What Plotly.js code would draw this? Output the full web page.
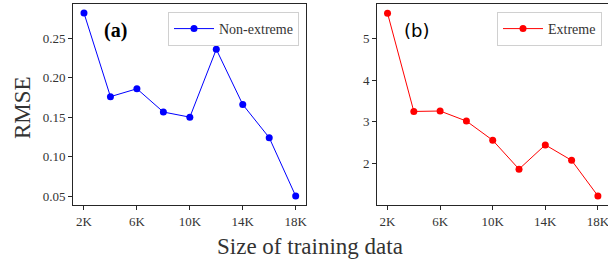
<!DOCTYPE html>
<html><head><meta charset="utf-8">
<script src="https://cdn.plot.ly/plotly-3.0.1.min.js"></script>
<style>html,body{margin:0;padding:0;background:#fff}#c{width:608px;height:266px}</style>
</head><body><div id="c"></div>
<script>
const sizes = [2, 4, 6, 8, 10, 12, 14, 16, 18];
const tickVals = [2, 6, 10, 14, 18];
const tickLabels = ["2K", "6K", "10K", "14K", "18K"];
const nonExtreme = [0.282, 0.176, 0.186, 0.1565, 0.150, 0.236, 0.166, 0.124, 0.050];
const extreme = [5.60, 3.25, 3.26, 3.02, 2.56, 1.87, 2.45, 2.08, 1.23];

const serif = "Liberation Serif";
const W = 608, H = 266;
const frame = '#262626';

const traces = [
  {x: sizes, y: nonExtreme, type: 'scatter', mode: 'lines+markers', name: 'Non-extreme',
   line: {color: '#0000ff', width: 1}, marker: {color: '#0000ff', size: 7}, xaxis: 'x', yaxis: 'y', legend: 'legend'},
  {x: sizes, y: extreme, type: 'scatter', mode: 'lines+markers', name: 'Extreme',
   line: {color: '#ff0000', width: 1}, marker: {color: '#ff0000', size: 7}, xaxis: 'x2', yaxis: 'y2', legend: 'legend2'}
];

const axBase = {showgrid: false, zeroline: false, showline: true, mirror: true, linecolor: frame, linewidth: 1,
  ticks: 'outside', ticklen: 4, tickwidth: 1, tickcolor: frame, ticklabeloverflow: 'allow',
  tickfont: {family: serif, size: 13, color: '#333'}};

const yDom = [1 - 205 / H, 1 - 4 / H];
const layout = {
  width: W, height: H, margin: {l: 0, r: 0, t: 0, b: 0}, paper_bgcolor: '#fff', plot_bgcolor: '#fff',
  showlegend: true,
  font: {family: serif},
  xaxis: Object.assign({}, axBase, {domain: [73 / W, 306 / W], range: [1.17, 18.78], tickvals: tickVals, ticktext: tickLabels, anchor: 'y'}),
  yaxis: Object.assign({}, axBase, {domain: yDom, range: [0.0386, 0.2935], tickvals: [0.05, 0.10, 0.15, 0.20, 0.25], ticktext: ['0.05','0.10','0.15','0.20','0.25'], anchor: 'x'}),
  xaxis2: Object.assign({}, axBase, {domain: [377 / W, 607.5 / W], range: [1.2, 18.73], tickvals: tickVals, ticktext: tickLabels, anchor: 'y2'}),
  yaxis2: Object.assign({}, axBase, {domain: yDom, range: [1.012, 5.82], tickvals: [2, 3, 4, 5], anchor: 'x2'}),
  legend: {x: 299 / W, y: 1 - 12 / H, xanchor: 'right', yanchor: 'top', bgcolor: 'rgba(255,255,255,0.8)', bordercolor: '#d0d0d0', borderwidth: 1,
    font: {family: serif, size: 14, color: '#333'}, itemwidth: 40, tracegroupgap: 0},
  legend2: {x: 602 / W, y: 1 - 12 / H, xanchor: 'right', yanchor: 'top', bgcolor: 'rgba(255,255,255,0.8)', bordercolor: '#d0d0d0', borderwidth: 1,
    font: {family: serif, size: 14, color: '#333'}, itemwidth: 40, tracegroupgap: 0},
  annotations: [
    {text: '<b>(a)</b>', xref: 'paper', yref: 'paper', x: 115 / W, y: 1 - 31 / H, xanchor: 'center', yanchor: 'middle', showarrow: false,
     font: {family: serif, size: 20, color: '#000'}},
    {text: '(b)', xref: 'paper', yref: 'paper', x: 416 / W, y: 1 - 31 / H, xanchor: 'center', yanchor: 'middle', showarrow: false,
     font: {family: 'DejaVu Sans', size: 18, color: '#000'}},
    {text: 'RMSE', xref: 'paper', yref: 'paper', x: 22 / W, y: 1 - 108 / H, xanchor: 'center', yanchor: 'middle', showarrow: false, textangle: -90,
     font: {family: serif, size: 23, color: '#333'}},
    {text: 'Size of training data', xref: 'paper', yref: 'paper', x: 310 / W, y: 1 - 246 / H, xanchor: 'center', yanchor: 'middle', showarrow: false,
     font: {family: serif, size: 23, color: '#333'}}
  ]
};
Plotly.newPlot('c', traces, layout, {displayModeBar: false, staticPlot: true});
</script></body></html>
